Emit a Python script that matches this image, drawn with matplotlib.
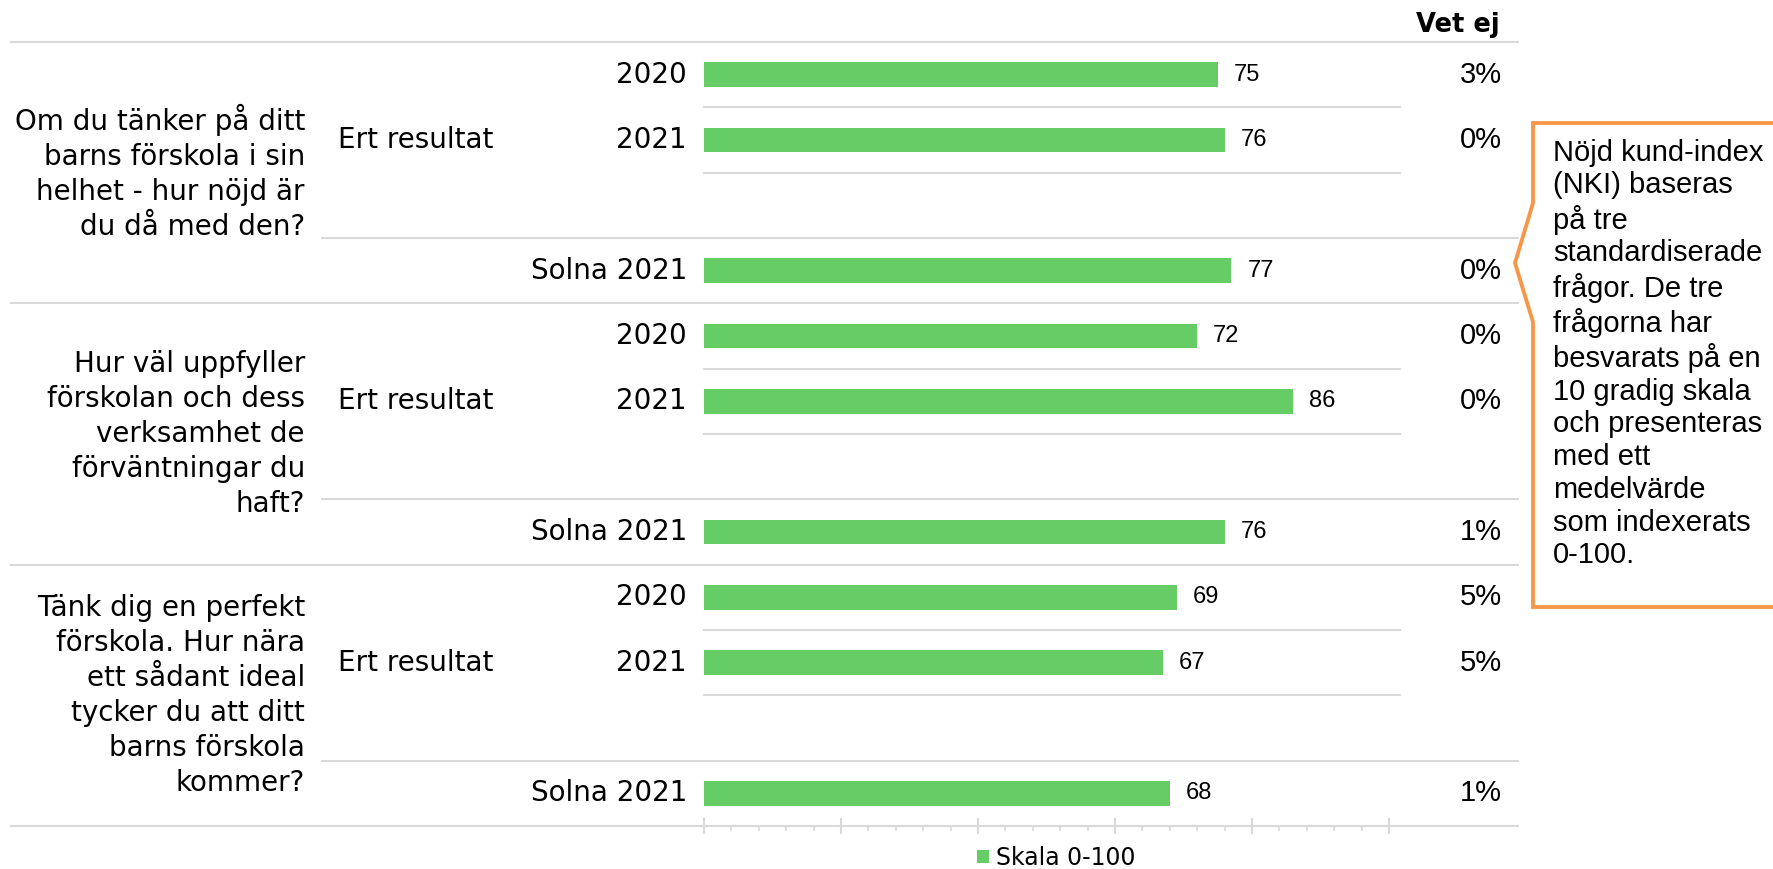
import matplotlib.pyplot as plt
import matplotlib.transforms as mtransforms
from matplotlib.patches import Polygon
from matplotlib.ticker import MultipleLocator

# data
questions = [
	"Om du tänker på ditt\nbarns förskola i sin\nhelhet - hur nöjd är\ndu då med den?",
	"Hur väl uppfyller\nförskolan och dess\nverksamhet de\nförväntningar du\nhaft?",
	"Tänk dig en perfekt\nförskola. Hur nära\nett sådant ideal\ntycker du att ditt\nbarns förskola\nkommer?",
]
row_labels = ["2020", "2021", "Solna 2021"]
group_label = "Ert resultat"
scores = [[75, 76, 77], [72, 86, 76], [69, 67, 68]]
vet_ej = [["3%", "0%", "0%"], ["0%", "0%", "1%"], ["5%", "5%", "1%"]]
legend_label = "Skala 0-100"
note = ("Nöjd kund-index\n(NKI) baseras\npå tre\nstandardiserade\nfrågor. De tre\nfrågorna har\n"
	"besvarats på en\n10 gradig skala\noch presenteras\nmed ett\nmedelvärde\nsom indexerats\n0-100.")

W, H = 1774, 869
bar_color = "#66CC66"
grid_color = "#D9D9D9"
orange = "#F79646"
arial = ["Liberation Sans", "DejaVu Sans"]

fig = plt.figure(figsize=(W / 100, H / 100), dpi=100)
px = lambda x: x / W
py = lambda y: 1 - y / H

ax = fig.add_axes([px(704), py(826), px(1389) - px(704), py(42) - py(826)])
ax.set_xlim(0, 100)
ax.set_ylim(11.5, -0.5)
for s in ax.spines.values():
	s.set_visible(False)
ax.set_yticks([])
ax.xaxis.set_major_locator(MultipleLocator(20))
ax.xaxis.set_minor_locator(MultipleLocator(4))
ax.tick_params(axis="x", which="major", direction="inout", length=11, width=1.5, color=grid_color, labelbottom=False)
ax.tick_params(axis="x", which="minor", direction="out", length=3.6, width=1.2, color=grid_color)

trans = mtransforms.blended_transform_factory(fig.transFigure, ax.transData)

slot_offsets = [0, 1, 3]
bars = None
for g in range(3):
	base = 4 * g
	ys = [base + o for o in slot_offsets]
	bars = ax.barh(ys, scores[g], height=0.38, color=bar_color)
	for y, v, lab, pct in zip(ys, scores[g], row_labels, vet_ej[g]):
		ax.annotate(str(v), (v, y), xytext=(11.5, 0), textcoords="offset points",
			va="center", ha="left", fontsize=17, family=arial)
		ax.text(px(687), y, lab, transform=trans, ha="right", va="center", fontsize=20)
		ax.text(px(1502), y, pct, transform=trans, ha="right", va="center", fontsize=21, family=arial)
	ax.text(px(338), base + 1, group_label, transform=trans, ha="left", va="center", fontsize=20)
	ax.text(px(305), base + 1.5, questions[g], transform=trans, ha="right", va="center",
		multialignment="right", fontsize=20, linespacing=1.32)

	# separators
	for b in [base + 0.5, base + 1.5]:
		ax.plot([px(704), px(1400)], [b, b], transform=trans, color=grid_color, lw=1.5, clip_on=False)
	ax.plot([px(322), px(1518)], [base + 2.5, base + 2.5], transform=trans, color=grid_color, lw=1.5, clip_on=False)
for b in [-0.5, 3.5, 7.5, 11.5]:
	ax.plot([px(11), px(1518)], [b, b], transform=trans, color=grid_color, lw=1.5, clip_on=False)

fig.text(px(1500), py(25), "Vet ej", ha="right", va="center", fontsize=18.5, fontweight="bold")

# callout
pts = [(1533, 123), (1800, 123), (1800, 607), (1533, 607), (1533, 322), (1515, 263), (1533, 203)]
fig.patches.append(Polygon([(px(x), py(y)) for x, y in pts], closed=True, facecolor="white",
	edgecolor=orange, lw=2.75, transform=fig.transFigure, figure=fig))
fig.text(px(1553), py(354), note, ha="left", va="center", fontsize=21, family=arial, linespacing=1.215)

fig.legend([bars], [legend_label], loc="center", bbox_to_anchor=(px(1056), py(858)), frameon=False,
	fontsize=17, handlelength=0.5, handleheight=0.5, handletextpad=0.3, borderpad=0)

fig.savefig("out.png", dpi=100)
